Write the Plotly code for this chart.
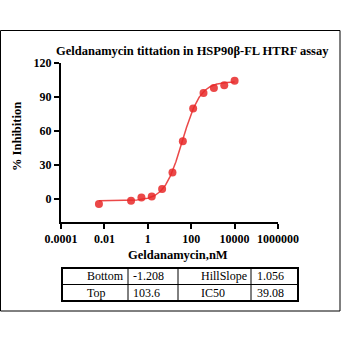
import numpy as np
import plotly.graph_objects as go

# Data
conc_nM = [0.0056, 0.169, 0.508, 1.52, 4.57, 13.7, 41.2, 123, 370, 1111, 3333, 10000]
inhibition = [-4.1, -1.2, 1.5, 2.4, 9.1, 23.5, 51.2, 80.0, 93.5, 98.0, 100.3, 104.4]

param_names_left = ["Bottom", "Top"]
param_values_left = [-1.208, 103.6]
param_names_right = ["HillSlope", "IC50"]
param_values_right = [1.056, 39.08]
param_labels_left = ["-1.208", "103.6"]
param_labels_right = ["1.056", "39.08"]

x_tickvals = [0.0001, 0.01, 1, 100, 10000, 1000000]
x_ticktext = ["0.0001", "0.01", "1", "100", "10000", "1000000"]
y_tickvals = [0, 30, 60, 90, 120]

bottom, top = param_values_left
hill, ic50 = param_values_right

# fitted 4PL curve from the reported parameters
xc = np.logspace(np.log10(conc_nM[0]), np.log10(conc_nM[-1]), 300)
yc = bottom + (top - bottom) / (1 + (ic50 / xc) ** hill)

RED = "rgba(232,40,40,0.85)"
FONT = "'Times New Roman', 'Liberation Serif', 'DejaVu Serif', serif"

fig = go.Figure()
fig.add_trace(go.Scatter(x=xc, y=yc, mode="lines", line=dict(color=RED, width=1.5),
                         hoverinfo="skip", showlegend=False))
fig.add_trace(go.Scatter(x=conc_nM, y=inhibition, mode="markers",
                         marker=dict(color=RED, size=8, line=dict(width=0)),
                         showlegend=False))

L, R, T, B = 61, 278, 63, 222
W = R - L
H = B - T


def px(x):
    return (x - L) / W


def py(y):
    return (B - y) / H


shapes = []
# outer frame
shapes.append(dict(type="rect", xref="paper", yref="paper",
                   x0=px(0.5), x1=px(340), y0=py(311), y1=py(30.5),
                   line=dict(color="black", width=1)))
# table
tx0, tx1, ty0, ty1 = 62, 298, 268, 301
ymid = 284.5
for xv in [128, 178, 251]:
    shapes.append(dict(type="line", xref="paper", yref="paper",
                       x0=px(xv), x1=px(xv), y0=py(ty0), y1=py(ty1),
                       line=dict(color="black", width=1)))
shapes.append(dict(type="line", xref="paper", yref="paper",
                   x0=px(tx0), x1=px(tx1), y0=py(ymid), y1=py(ymid),
                   line=dict(color="black", width=1)))
shapes.append(dict(type="rect", xref="paper", yref="paper",
                   x0=px(tx0), x1=px(tx1), y0=py(ty1), y1=py(ty0),
                   line=dict(color="black", width=2)))

annotations = []
rows_y = [276, 292.5]
cols = [(85, param_names_left), (131, param_labels_left),
        (199, param_names_right), (255, param_labels_right)]
for xl, texts in cols:
    for ry, t in zip(rows_y, texts):
        annotations.append(dict(x=px(xl), y=py(ry), xref="paper", yref="paper",
                                text=t, showarrow=False, xanchor="left", yanchor="middle",
                                font=dict(family=FONT, size=12, color="black")))

# title
annotations.append(dict(x=px(192), y=py(51), xref="paper", yref="paper",
                        text="<b>Geldanamycin tittation in HSP90β-FL HTRF assay</b>",
                        showarrow=False, xanchor="center", yanchor="middle",
                        font=dict(family=FONT, size=12.5, color="black")))
# axis titles
annotations.append(dict(x=px(177.5), y=py(255), xref="paper", yref="paper",
                        text="<b>Geldanamycin,nM</b>", showarrow=False,
                        xanchor="center", yanchor="middle",
                        font=dict(family=FONT, size=12.5, color="black")))
annotations.append(dict(x=px(17), y=py(137), xref="paper", yref="paper",
                        text="<b>% Inhibition</b>", showarrow=False, textangle=-90,
                        xanchor="center", yanchor="middle",
                        font=dict(family=FONT, size=12.5, color="black")))

fig.update_layout(
    width=342, height=342,
    margin=dict(l=L, r=342 - R, t=T, b=342 - B),
    paper_bgcolor="white", plot_bgcolor="white",
    shapes=shapes, annotations=annotations,
    font=dict(family=FONT, color="black"),
)
fig.update_xaxes(type="log", range=[-4, 6], tickvals=x_tickvals,
                 ticktext=["<b>%s</b>" % t for t in x_ticktext],
                 showline=True, linecolor="black", linewidth=2,
                 ticks="outside", ticklen=5, tickwidth=2, tickcolor="black",
                 showgrid=False, zeroline=False,
                 tickfont=dict(family=FONT, size=12, color="black"))
fig.update_yaxes(range=[-20, 120], tickvals=y_tickvals,
                 ticktext=["<b>%d</b>" % v for v in y_tickvals],
                 showline=True, linecolor="black", linewidth=2,
                 ticks="outside", ticklen=5, tickwidth=2, tickcolor="black",
                 showgrid=False, zeroline=False,
                 tickfont=dict(family=FONT, size=12, color="black"))

fig.write_html("out.html")
